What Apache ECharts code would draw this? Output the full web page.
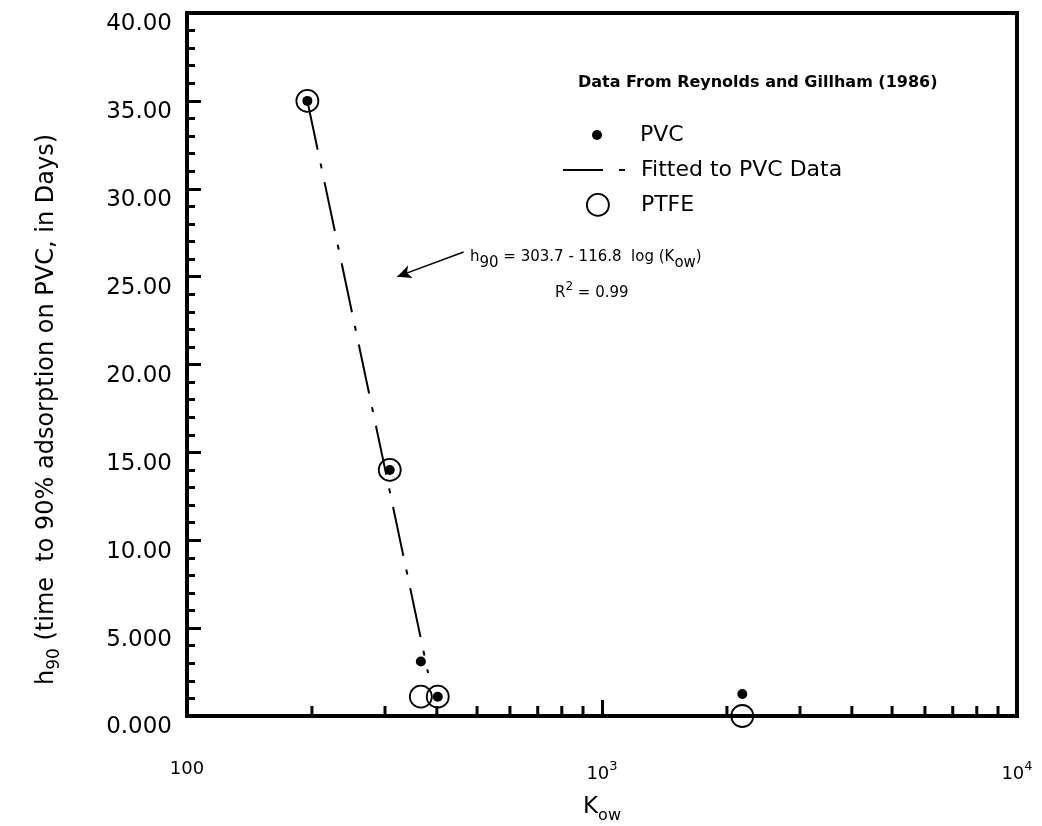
<!DOCTYPE html>
<html>
<head>
<meta charset="utf-8">
<script src="https://cdn.jsdelivr.net/npm/echarts@6/dist/echarts.min.js"></script>
<style>
html, body { margin: 0; padding: 0; background: #fff; }
#chart { width: 1042px; height: 826px; }
</style>
</head>
<body>
<div id="chart"></div>
<script>
// values: K_ow and h90 (days)
const pvcKow = [195, 308, 366, 402, 2178]
const pvcH90 = [35.0, 14.0, 3.1, 1.1, 1.25]
const ptfeKow = [195, 308, 366, 402, 2178]
const ptfeH90 = [35.0, 14.0, 1.1, 1.1, 0.0]
// end points of the fitted line
const fitKow = [195, 381]
const fitH90 = [35.0, 2.45]
// arrow pointing at the fitted line (tail, head)
const arrowKow = [464, 321]
const arrowH90 = [26.4, 25.0]
// minor ticks of the log axis
const xMinorTicks = [200, 300, 400, 500, 600, 700, 800, 900, 2000, 3000, 4000, 5000, 6000, 7000, 8000, 9000]

const FONT = 'DejaVu Sans'
const pairs = (xs, ys) => xs.map((x, i) => [x, ys[i]])

// legend text, pushed right so all three line up
const legendText = (pad) => ({
  fontFamily: FONT,
  fontSize: 22,
  color: '#000',
  rich: { t: { fontFamily: FONT, fontSize: 22, color: '#000', padding: [0, 0, 0, pad] } }
})

const chart = echarts.init(document.getElementById('chart'))

const option = {
  animation: false,
  backgroundColor: '#fff',
  textStyle: { fontFamily: FONT, color: '#000' },
  title: {
    text: 'Data From Reynolds and Gillham (1986)',
    left: 578,
    top: 75,
    padding: 0,
    textStyle: { fontFamily: FONT, fontSize: 16, fontWeight: 'bold', color: '#000' }
  },
  legend: [
    {
      data: ['PVC'],
      left: 592,
      top: 124,
      padding: 0,
      itemWidth: 10,
      itemHeight: 10,
      selectedMode: false,
      icon: 'circle',
      formatter: '{t|{name}}',
      textStyle: legendText(33)
    },
    {
      data: ['Fitted to PVC Data'],
      left: 562,
      top: 159,
      padding: 0,
      itemWidth: 73,
      itemHeight: 12,
      selectedMode: false,
      // hide the marker the line icon puts in its middle
      itemStyle: { color: 'rgba(0,0,0,0)', borderColor: 'rgba(0,0,0,0)', borderWidth: 0 },
      lineStyle: { type: [40, 16, 6, 40], width: 2, color: '#000' },
      textStyle: { fontFamily: FONT, fontSize: 22, color: '#000' }
    },
    {
      data: ['PTFE'],
      left: 586,
      top: 193,
      padding: 0,
      itemWidth: 22,
      itemHeight: 22,
      selectedMode: false,
      icon: 'circle',
      itemStyle: { color: 'transparent', borderColor: '#000', borderWidth: 1.8 },
      formatter: '{t|{name}}',
      textStyle: legendText(27)
    }
  ],
  grid: {
    left: 187,
    right: 25,
    top: 13,
    bottom: 110,
    outerBoundsMode: 'none',
    show: true,
    borderColor: '#000',
    borderWidth: 4,
    backgroundColor: 'transparent'
  },
  xAxis: {
    type: 'log',
    logBase: 10,
    min: 100,
    max: 10000,
    axisLine: { lineStyle: { color: '#000', width: 4 } },
    axisTick: { inside: true, length: 16, lineStyle: { color: '#000', width: 3 } },
    splitLine: { show: false },
    axisLabel: {
      margin: 44,
      color: '#000',
      formatter: (v) => v === 100 ? '{b|100}' : '{b|10}{sup|' + Math.round(Math.log10(v)) + '}',
      rich: {
        b: { fontFamily: FONT, fontSize: 18, color: '#000' },
        sup: { fontFamily: FONT, fontSize: 13, color: '#000', padding: [0, 0, 16, 0] }
      }
    },
    name: '{b|K}{sub|ow}',
    nameLocation: 'middle',
    nameGap: 74,
    nameTextStyle: {
      rich: {
        b: { fontFamily: FONT, fontSize: 23, color: '#000' },
        sub: { fontFamily: FONT, fontSize: 16, color: '#000', padding: [18, 0, 0, 0] }
      }
    }
  },
  yAxis: {
    type: 'value',
    min: 0,
    max: 40,
    interval: 5,
    axisLine: { show: true, lineStyle: { color: '#000', width: 4 } },
    axisTick: { inside: true, length: 14, lineStyle: { color: '#000', width: 3 } },
    minorTick: { show: true, splitNumber: 5, length: 8, lineStyle: { color: '#000', width: 3 } },
    splitLine: { show: false },
    axisLabel: {
      margin: 15,
      fontFamily: FONT,
      fontSize: 23,
      color: '#000',
      verticalAlign: 'top',
      formatter: (v) => v < 10 ? v.toFixed(3) : v.toFixed(2)
    },
    name: '{n|h}{s|90}{n| (time  to 90% adsorption on PVC, in Days)}',
    nameLocation: 'middle',
    nameGap: 124,
    nameTextStyle: {
      padding: [0, 90, 0, 0],
      rich: {
        n: { fontFamily: FONT, fontSize: 24, color: '#000' },
        s: { fontFamily: FONT, fontSize: 17, color: '#000', padding: [16, 0, 0, 0] }
      }
    }
  },
  graphic: [
    {
      type: 'text',
      x: 470,
      y: 257,
      style: {
        text: '{n|h}{s|90}{n| = 303.7 - 116.8  log (K}{s|ow}{n|)}',
        verticalAlign: 'middle',
        fill: '#000',
        rich: {
          n: { fontFamily: FONT, fontSize: 15, fill: '#000' },
          s: { fontFamily: FONT, fontSize: 15, fill: '#000', padding: [12, 0, 0, 0] }
        }
      }
    },
    {
      type: 'text',
      x: 555,
      y: 293,
      style: {
        text: '{n|R}{p|2}{n| = 0.99}',
        verticalAlign: 'middle',
        fill: '#000',
        rich: {
          n: { fontFamily: FONT, fontSize: 15, fill: '#000' },
          p: { fontFamily: FONT, fontSize: 12, fill: '#000', padding: [0, 0, 12, 0] }
        }
      }
    }
  ],
  series: [
    {
      // minor ticks of the log x axis
      type: 'custom',
      silent: true,
      data: xMinorTicks.map((v) => [v, 0]),
      encode: { x: 0, y: 1 },
      renderItem: (params, api) => {
        const p = api.coord([api.value(0), 0])
        return {
          type: 'line',
          shape: { x1: p[0], y1: p[1], x2: p[0], y2: p[1] - 10 },
          style: { stroke: '#000', lineWidth: 3 }
        }
      }
    },
    {
      name: 'Fitted to PVC Data',
      type: 'line',
      symbol: 'none',
      data: pairs(fitKow, fitH90),
      lineStyle: { color: '#000', width: 2, type: [50, 14, 5, 14] },
      itemStyle: { color: '#000' },
      markLine: {
        silent: true,
        symbol: ['none', 'arrow'],
        symbolSize: [10, 14],
        label: { show: false },
        lineStyle: { color: '#000', width: 1.5, type: 'solid' },
        data: [[
          { coord: [arrowKow[0], arrowH90[0]] },
          { coord: [arrowKow[1], arrowH90[1]] }
        ]]
      }
    },
    {
      name: 'PVC',
      type: 'scatter',
      symbol: 'circle',
      symbolSize: 10,
      itemStyle: { color: '#000', opacity: 1 },
      data: pairs(pvcKow, pvcH90)
    },
    {
      name: 'PTFE',
      type: 'scatter',
      symbol: 'circle',
      symbolSize: 22,
      itemStyle: { color: 'transparent', borderColor: '#000', borderWidth: 1.8, opacity: 1 },
      data: pairs(ptfeKow, ptfeH90)
    }
  ]
}

chart.setOption(option)
</script>
</body>
</html>
